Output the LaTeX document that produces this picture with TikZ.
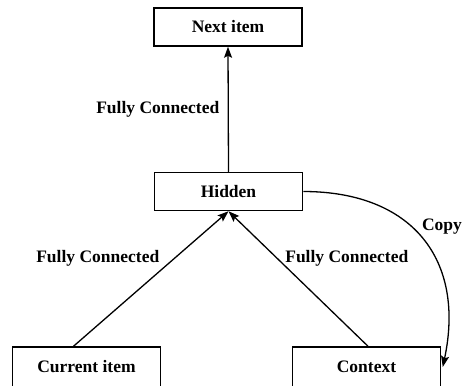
\documentclass[tikz,border=0pt]{standalone}
\usepackage{fontspec}
\setmainfont{Liberation Serif}
\usetikzlibrary{
  arrows.meta,
  positioning
}

\begin{document}
\begin{tikzpicture}[x=1pt, y=-1pt,
    every node/.style={font=\fontsize{17.5}{20}\selectfont\bfseries},
    unit/.style={draw, line width=1.5pt, minimum width=148pt, minimum height=38pt, inner sep=0pt},
    link/.style={line width=1.3pt, -{Stealth[length=11pt, width=8pt, inset=2pt]}}]
    \useasboundingbox (0,0) rectangle (462,385);

    % Layers of the network (bottom boxes run past the lower edge)
    \node[unit] (next) at (228,27) {Next item};
    \node[unit] (hidden) at (228.5,191.5) {Hidden};
    \node[unit, minimum height=40pt] (current) at (86.5,367) {Current item};
    \node[unit, minimum height=40pt] (context) at (366.5,367) {Context};

    % Weights between the layers
    \draw[link] (hidden.north) -- (next.south) node[midway, left=5pt] {Fully Connected};
    \draw[link] ([xshift=-13pt]current.north) -- (hidden.south) node[pos=0.65, left=11pt] {Fully Connected};
    \draw[link] ([xshift=1.5pt]context.north) -- (hidden.south) node[pos=0.65, right=4pt] {Fully Connected};

    % Hidden state copied back into the context
    \draw[link] (hidden.east) to[out=0, in=78, looseness=1.25] ([xshift=1.5pt]context.east);
    \node (copy) at (442,227) {Copy};
\end{tikzpicture}
\end{document}
